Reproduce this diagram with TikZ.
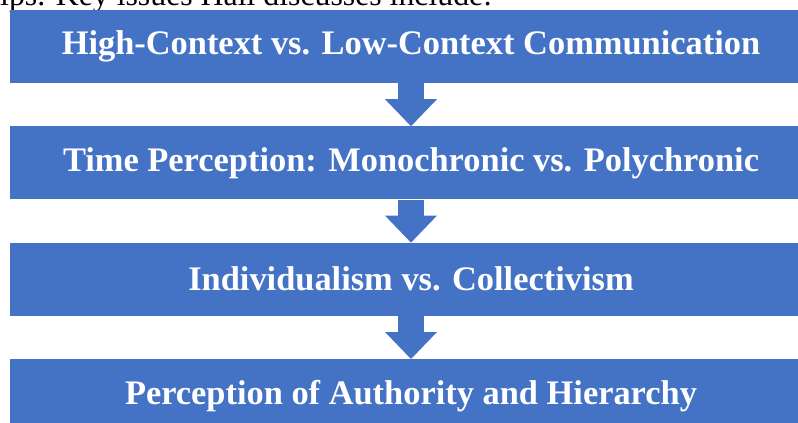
\documentclass[tikz,border=0pt]{standalone}
\usepackage{fontspec}
\setmainfont{Liberation Serif}
\usepackage{xcolor}
\usetikzlibrary{arrows.meta,positioning}

\definecolor{stageblue}{RGB}{68,114,196}

\begin{document}
\begin{tikzpicture}[x=1pt, y=1pt, node distance=43pt,
    stagebox/.style={rectangle, fill=stageblue, text=white, inner sep=0pt,
        minimum width=802pt, minimum height=73pt,
        font=\fontsize{34.4}{40}\selectfont\bfseries},
    flow/.style={stageblue, line width=26pt,
        -{Triangle[width=52pt, length=27pt, line width=0pt]}}]
    \useasboundingbox (0,0) rectangle (798,-423);
    \clip (0,0) rectangle (798,-423);
    \node[anchor=base west, inner sep=0pt, font=\fontsize{31.8}{38}\selectfont] (lead) at (0,-5.5) {ips. Key issues Hall discusses include:};
    \node[stagebox] (s1) at (411,-46.5) {High-Context vs. Low-Context Communication};
    \node[stagebox, below=of s1] (s2) {Time Perception: Monochronic vs. Polychronic};
    \node[stagebox, below=of s2] (s3) {Individualism vs. Collectivism};
    \node[stagebox, below=of s3] (s4) {Perception of Authority and Hierarchy};
    \draw[flow] (s1) -- (s2);
    \draw[flow] (s2) -- (s3);
    \draw[flow] (s3) -- (s4);
\end{tikzpicture}
\end{document}
